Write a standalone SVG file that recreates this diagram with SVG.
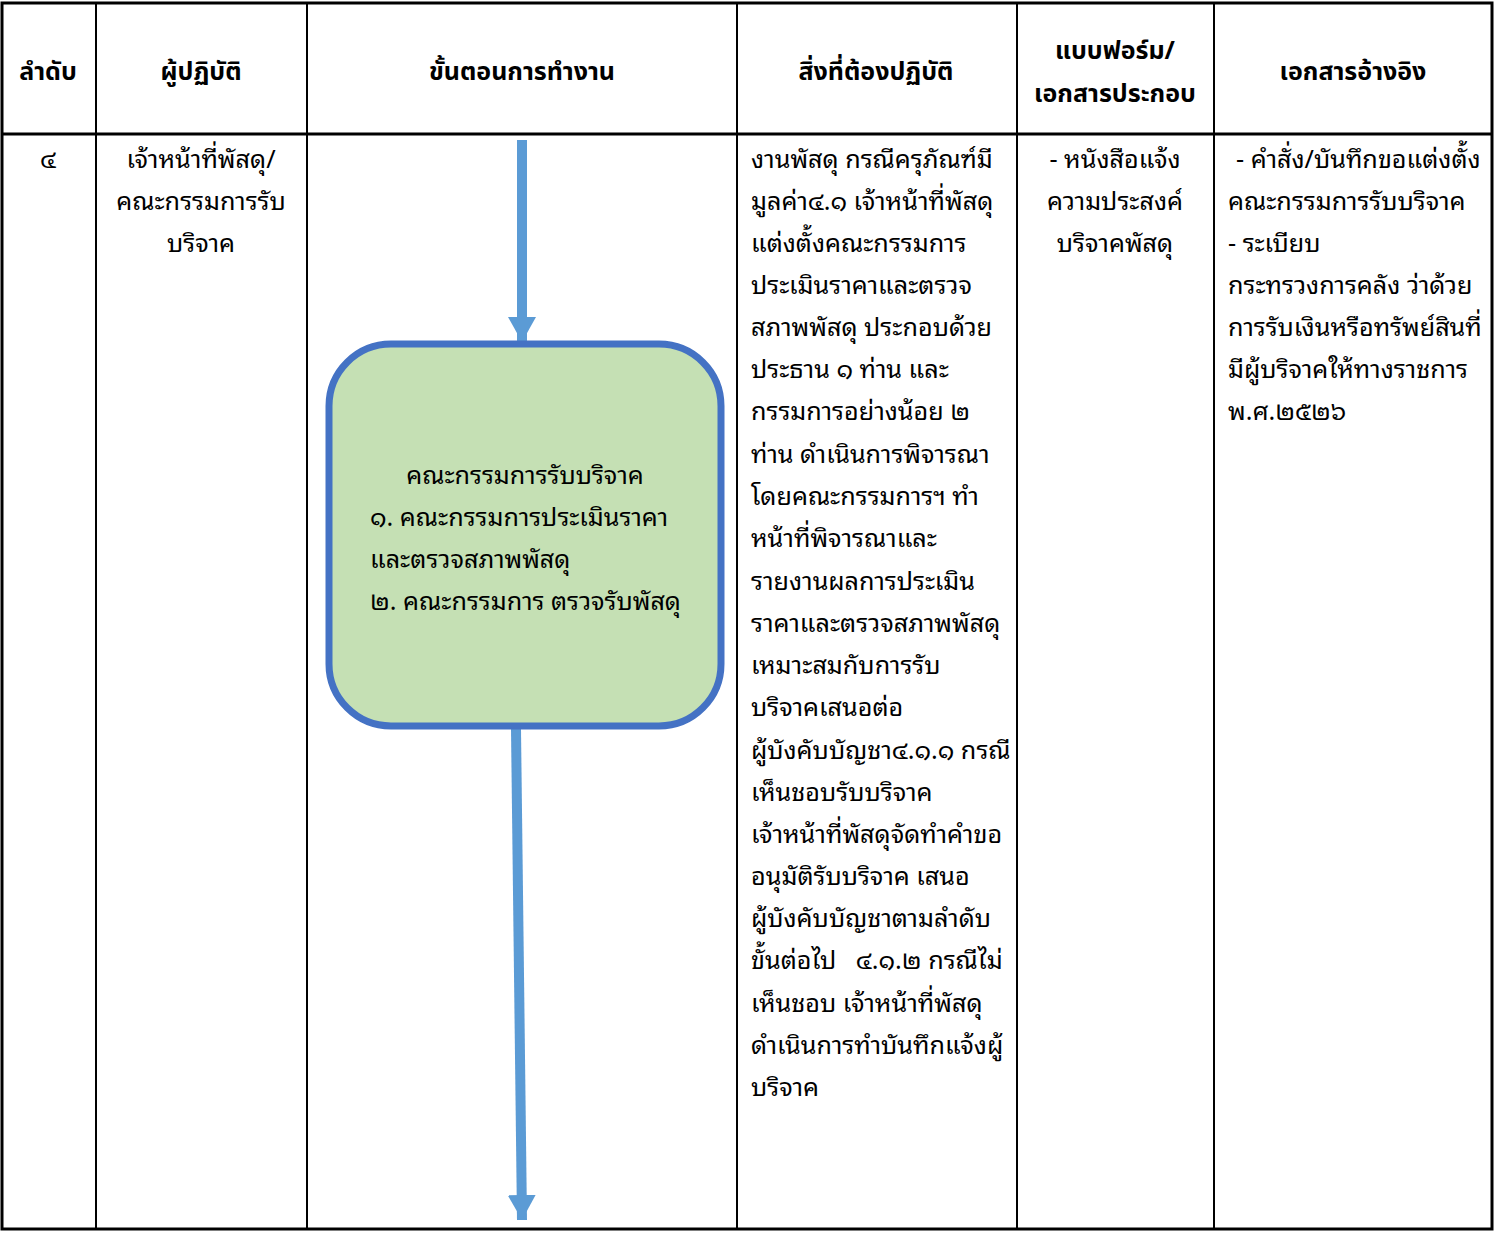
<svg xmlns="http://www.w3.org/2000/svg" width="1495" height="1236" viewBox="0 0 1495 1236">
<style>
.t{font-family:"Noto Sans Thai Looped","Noto Serif Thai","Noto Sans Thai","Noto Sans","DejaVu Sans",sans-serif;font-size:25.2px;fill:#000}
.h{font-family:"Noto Sans Thai","Noto Sans","DejaVu Sans",sans-serif;font-size:25px;font-weight:bold;fill:#000}
.c{text-anchor:middle}
.grid{stroke:#000;stroke-width:2;fill:none}
.arrow{stroke:#5B9BD5;stroke-width:10;fill:none}
</style>
<defs>
<marker id="ah" markerUnits="userSpaceOnUse" markerWidth="30" markerHeight="30" refX="25" refY="14" orient="auto">
<path d="M0,0 L25,14 L0,28 Z" fill="#5B9BD5"/>
</marker>
</defs>
<rect width="1495" height="1236" fill="#fff"/>
<g id="table">
<rect class="grid" x="2" y="3" width="1490" height="1226" style="stroke-width:3"/>
<line class="grid" x1="2" y1="134" x2="1492" y2="134" style="stroke-width:3"/>
<line class="grid" x1="96" y1="3" x2="96" y2="1229"/>
<line class="grid" x1="307" y1="3" x2="307" y2="1229"/>
<line class="grid" x1="737" y1="3" x2="737" y2="1229"/>
<line class="grid" x1="1017" y1="3" x2="1017" y2="1229"/>
<line class="grid" x1="1214" y1="3" x2="1214" y2="1229"/>
</g>
<g id="header">
<text class="h c" x="48" y="80">ลำดับ</text>
<text class="h c" x="201" y="80">ผู้ปฏิบัติ</text>
<text class="h c" x="522" y="80">ขั้นตอนการทำงาน</text>
<text class="h c" x="876" y="80">สิ่งที่ต้องปฏิบัติ</text>
<text class="h c" x="1115" y="59">แบบฟอร์ม/</text>
<text class="h c" x="1115" y="102">เอกสารประกอบ</text>
<text class="h c" x="1353" y="80">เอกสารอ้างอิง</text>
</g>
<g id="col1">
<text class="t c" x="48" y="168">๔</text>
</g>
<g id="col2">
<text class="t c" x="201" y="168">เจ้าหน้าที่พัสดุ/</text>
<text class="t c" x="201" y="210">คณะกรรมการรับ</text>
<text class="t c" x="201" y="252">บริจาค</text>
</g>
<g id="connectors">
<line class="arrow" x1="522" y1="140" x2="522" y2="342" marker-end="url(#ah)"/>
<line class="arrow" x1="516" y1="729" x2="522" y2="1220" marker-end="url(#ah)"/>
</g>
<g id="node-committee">
<rect x="329" y="344" width="392" height="382" rx="62" ry="62" fill="#C5E0B4" stroke="#4472C4" stroke-width="7"/>
<text class="t c" x="525" y="484">คณะกรรมการรับบริจาค</text>
<text class="t" x="370" y="526">๑. คณะกรรมการประเมินราคา</text>
<text class="t" x="370" y="568">และตรวจสภาพพัสดุ</text>
<text class="t" x="370" y="610">๒. คณะกรรมการ ตรวจรับพัสดุ</text>
</g>
<g id="col4">
<text class="t" x="751" y="168">งานพัสดุ กรณีครุภัณฑ์มี</text>
<text class="t" x="751" y="210">มูลค่า๔.๑ เจ้าหน้าที่พัสดุ</text>
<text class="t" x="751" y="252">แต่งตั้งคณะกรรมการ</text>
<text class="t" x="751" y="294">ประเมินราคาและตรวจ</text>
<text class="t" x="751" y="336">สภาพพัสดุ ประกอบด้วย</text>
<text class="t" x="751" y="378">ประธาน ๑ ท่าน และ</text>
<text class="t" x="751" y="420">กรรมการอย่างน้อย ๒</text>
<text class="t" x="751" y="463">ท่าน ดำเนินการพิจารณา</text>
<text class="t" x="751" y="505">โดยคณะกรรมการฯ ทำ</text>
<text class="t" x="751" y="547">หน้าที่พิจารณาและ</text>
<text class="t" x="751" y="590">รายงานผลการประเมิน</text>
<text class="t" x="751" y="632">ราคาและตรวจสภาพพัสดุ</text>
<text class="t" x="751" y="674">เหมาะสมกับการรับ</text>
<text class="t" x="751" y="716">บริจาคเสนอต่อ</text>
<text class="t" x="751" y="759">ผู้บังคับบัญชา๔.๑.๑ กรณี</text>
<text class="t" x="751" y="801">เห็นชอบรับบริจาค</text>
<text class="t" x="751" y="843">เจ้าหน้าที่พัสดุจัดทำคำขอ</text>
<text class="t" x="751" y="885">อนุมัติรับบริจาค เสนอ</text>
<text class="t" x="751" y="927">ผู้บังคับบัญชาตามลำดับ</text>
<text class="t" x="751" y="969" xml:space="preserve">ขั้นต่อไป   ๔.๑.๒ กรณีไม่</text>
<text class="t" x="751" y="1012">เห็นชอบ เจ้าหน้าที่พัสดุ</text>
<text class="t" x="751" y="1054">ดำเนินการทำบันทึกแจ้งผู้</text>
<text class="t" x="751" y="1096">บริจาค</text>
</g>
<g id="col5">
<text class="t c" x="1115" y="168">- หนังสือแจ้ง</text>
<text class="t c" x="1115" y="210">ความประสงค์</text>
<text class="t c" x="1115" y="252">บริจาคพัสดุ</text>
</g>
<g id="col6">
<text class="t" x="1236" y="168">- คำสั่ง/บันทึกขอแต่งตั้ง</text>
<text class="t" x="1228" y="210">คณะกรรมการรับบริจาค</text>
<text class="t" x="1228" y="252">- ระเบียบ</text>
<text class="t" x="1228" y="294">กระทรวงการคลัง ว่าด้วย</text>
<text class="t" x="1228" y="336">การรับเงินหรือทรัพย์สินที่</text>
<text class="t" x="1228" y="378">มีผู้บริจาคให้ทางราชการ</text>
<text class="t" x="1228" y="420">พ.ศ.๒๕๒๖</text>
</g>
</svg>
